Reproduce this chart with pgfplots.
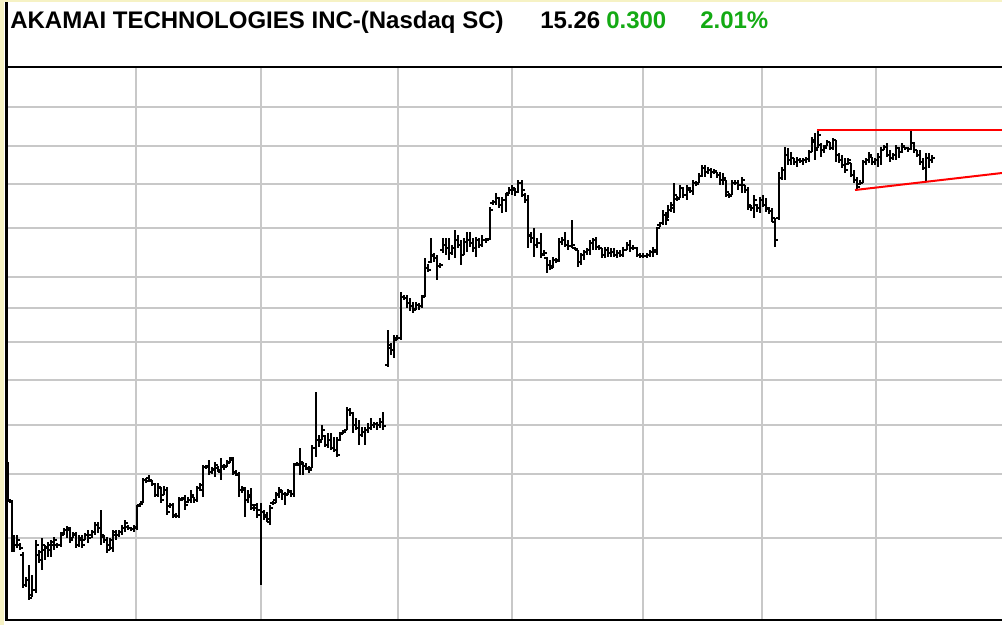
\documentclass[border=0pt]{standalone}
\usepackage{pgfplots}
\pgfplotsset{compat=1.18}
\usepackage{pgfplotstable}
\usepackage{fontspec}
\newfontfamily\tfont{Liberation Sans}
\definecolor{gridgray}{RGB}{200,200,200}
\definecolor{frameyellow}{RGB}{246,242,196}
\definecolor{chg}{RGB}{20,170,20}
% bars: x position, top (high), bottom (low), open, close  -- vertical values in screen units (down = lower price)
\pgfplotstableread{
x hi lo o c
8 462 502 465 500
12 500 552 502 540
14 535 552 540 545
17 535 548 545 540
20 543 550 545 548
23 552 588 555 585
26 577 587 585 580
29 565 600 580 598
32 575 597 595 590
36 540 593 590 545
39 550 563 555 552
42 538 570 560 545
45 545 560 550 547
48 542 557 548 545
51 540 557 550 542
54 537 550 545 540
57 543 548 545 545
61 532 547 545 535
64 528 535 533 530
67 526 538 530 528
70 527 543 530 540
73 532 538 538 534
76 532 548 535 545
79 535 547 545 538
82 535 548 540 545
85 533 540 540 535
88 530 543 535 538
92 530 538 535 532
95 522 535 532 525
98 522 533 525 528
101 510 545 528 535
104 535 543 537 540
107 537 553 540 550
110 538 550 545 540
113 530 552 548 532
116 530 540 535 535
119 530 537 535 532
122 525 535 532 528
125 520 532 528 523
128 525 530 527 528
131 527 531 528 529
134 525 532 529 527
137 505 530 528 506
140 503 507 505 504
143 478 503 502 480
146 478 483 480 481
149 475 482 478 480
152 480 486 481 484
155 483 497 484 495
158 483 497 495 487
161 487 503 488 500
164 486 495 495 490
167 487 515 490 512
170 503 508 506 505
173 503 518 505 516
176 513 518 515 516
179 497 518 516 500
182 497 501 499 499
185 495 510 498 505
188 497 503 502 500
191 490 503 500 495
194 497 503 497 500
197 486 502 500 488
200 483 491 488 485
203 465 497 490 467
206 465 469 467 467
209 460 475 466 472
212 467 474 472 469
215 462 477 470 465
218 466 472 468 470
221 458 480 472 466
224 464 470 467 467
227 460 467 466 463
230 457 463 462 460
233 457 475 458 472
236 470 476 473 474
239 472 497 475 490
242 486 493 490 490
245 487 517 488 500
248 490 503 500 497
251 488 510 495 505
254 504 511 508 508
257 503 518 505 515
261 503 585 510 512
264 510 520 512 517
267 512 522 515 519
270 505 525 522 508
273 501 505 503 503
276 492 503 500 494
279 487 498 495 490
282 490 500 492 494
285 492 505 494 495
288 489 495 494 491
291 490 497 492 494
294 463 497 494 465
297 462 466 464 464
300 448 475 465 462
303 462 475 464 466
306 463 470 466 468
309 466 473 469 470
312 445 468 468 448
316 392 457 448 440
319 435 447 440 442
322 425 440 440 430
325 435 447 436 445
328 433 448 445 440
331 433 450 440 448
334 437 452 448 450
337 437 457 450 455
340 432 441 440 434
343 430 434 433 432
347 407 430 430 410
350 408 416 410 413
353 412 433 413 425
356 418 430 425 428
359 420 445 428 435
362 427 437 435 432
365 427 445 432 430
368 423 433 430 428
371 418 430 428 425
374 422 428 425 424
377 422 430 424 425
380 418 428 425 422
383 412 430 422 426
388 330 367 365 345
391 343 355 348 350
394 335 358 350 340
397 335 340 338 338
401 292 340 338 297
404 295 300 297 298
407 295 308 298 303
410 298 311 303 306
413 302 313 306 310
416 302 310 309 305
419 303 310 305 306
422 295 308 306 297
425 258 297 296 268
428 264 272 268 270
431 238 263 262 255
434 253 262 256 258
437 255 280 258 266
440 263 268 266 265
443 238 253 250 245
446 238 255 245 248
449 238 260 248 253
452 245 255 253 248
455 230 258 248 240
458 235 248 240 245
461 240 265 245 255
464 238 255 255 242
467 232 252 242 240
470 232 247 240 243
473 238 252 243 248
476 237 257 248 240
479 238 248 240 245
482 235 247 245 240
486 238 243 240 240
490 207 240 239 210
493 200 205 203 202
496 193 205 202 198
499 197 208 198 205
502 197 213 205 200
506 193 212 200 195
509 187 194 193 190
512 185 195 190 188
515 188 196 190 192
518 180 193 192 183
522 180 197 183 190
525 193 203 195 200
528 195 248 200 235
531 232 243 236 238
534 228 257 238 245
537 238 248 245 243
541 233 258 243 255
544 250 256 254 253
547 257 273 258 265
550 260 270 265 268
553 257 268 266 260
556 258 263 260 261
559 238 262 260 242
562 237 245 242 240
565 232 247 240 245
568 240 250 245 246
572 220 248 246 245
575 247 250 248 249
578 250 267 250 262
581 253 265 262 255
584 250 260 255 252
587 248 255 252 250
590 240 255 250 243
593 238 250 243 240
596 237 250 240 247
599 245 250 247 248
602 248 258 248 255
605 247 258 255 250
608 247 257 250 253
611 248 257 253 252
614 248 257 252 255
617 250 258 255 253
620 250 257 253 255
623 247 257 255 250
627 242 250 250 245
630 240 252 245 248
633 245 250 248 248
637 247 257 248 255
640 253 258 255 256
643 253 258 256 256
647 253 258 256 255
650 250 257 255 252
653 247 257 252 250
657 227 255 252 228
660 222 227 225 223
663 210 225 223 215
666 212 225 215 220
668 205 218 218 210
671 202 212 210 205
674 183 213 208 195
677 196 201 199 199
680 185 198 198 188
683 187 198 188 195
687 185 200 195 188
690 187 193 190 191
693 180 195 191 183
696 181 186 183 184
699 173 183 183 176
702 165 177 176 168
705 165 177 168 172
708 167 174 172 170
711 168 178 170 172
714 169 174 172 171
717 172 178 172 175
720 172 185 175 180
723 173 185 180 178
726 180 197 180 192
729 193 198 195 196
732 180 195 195 183
735 180 185 183 183
738 180 190 183 185
742 177 193 185 180
745 185 193 185 190
748 187 210 190 205
751 205 211 207 208
754 195 218 208 200
757 204 212 205 208
760 197 213 208 200
763 195 207 200 205
766 198 212 205 208
769 207 214 209 211
772 208 222 211 218
775 218 247 222 240
779 172 220 218 178
782 167 180 178 170
785 147 180 170 155
788 148 165 155 160
791 152 165 160 158
794 158 165 158 162
797 157 167 162 160
800 158 163 160 161
803 158 165 161 160
806 157 163 160 159
809 150 162 159 152
812 137 152 152 140
815 133 160 142 150
818 130 148 148 135
821 143 157 145 150
824 145 153 150 148
827 140 146 146 142
830 142 150 142 148
833 138 150 148 140
836 140 162 140 155
839 153 163 155 160
842 155 168 160 165
845 158 173 165 170
848 158 165 164 160
851 163 177 163 175
854 170 183 175 180
857 177 190 180 187
860 180 185 184 183
863 160 183 183 162
866 158 165 162 160
869 152 163 160 155
872 157 165 157 162
875 158 165 162 160
878 153 167 160 157
881 147 165 157 150
884 145 150 150 147
887 143 157 147 155
890 150 162 155 158
893 153 160 158 155
896 145 160 155 148
899 147 158 148 152
902 143 153 152 146
905 147 150 147 148
908 147 152 148 149
911 130 150 149 143
914 142 153 143 150
917 150 157 150 155
920 150 165 155 162
923 158 170 162 168
926 153 182 168 158
929 153 168 158 160
932 155 163 160 158
}\data
\begin{document}
\begin{tikzpicture}[x=0.75pt,y=0.75pt]
\useasboundingbox (0,0) rectangle (1002,625);
\fill[white] (0,0) rectangle (1002,625);
\begin{axis}[
  at={(6pt,3.75pt)}, anchor=south west,
  scale only axis, width=745.5pt, height=414pt,
  xmin=8, xmax=1002, ymin=68, ymax=620, y dir=reverse,
  axis line style={draw=none},
  xtick={136,261,398,512,643,762,876},
  ytick={107,146,184,228,277,308,342,380,425,474,538},
  xticklabels={}, yticklabels={},
  major tick length=0pt,
  grid=major,
  grid style={gridgray, line width=1.5pt},
  clip=true,
]
\addplot[black, line width=1.7pt, mark=none,
  quiver={u=0, v={\thisrow{lo}-\thisrow{hi}}}] table[x=x, y=hi] {\data};
\addplot[black, line width=1.6pt, mark=none,
  quiver={u=-2.8, v=0}] table[x=x, y=o] {\data};
\addplot[black, line width=1.6pt, mark=none,
  quiver={u=2.8, v=0}] table[x=x, y=c] {\data};
\addplot[red, line width=1.5pt, mark=none] coordinates {(817,130) (1002,130)};
\addplot[red, line width=1.5pt, mark=none] coordinates {(855,190) (1002,173)};
\end{axis}
% frame
\fill[frameyellow] (0,0) rectangle (4,625);
\fill[frameyellow] (0,623) rectangle (1002,625);
\fill[black] (5,4) rectangle (7.5,623);
\fill[black] (5,4) rectangle (1002,6.5);
\fill[black] (5,557) rectangle (1002,559);
% title
\node[anchor=base west, inner sep=0pt] at (10,596)
  {\tfont\fontsize{18pt}{20pt}\selectfont\bfseries AKAMAI TECHNOLOGIES INC-(Nasdaq SC)};
\node[anchor=base west, inner sep=0pt] at (540,596)
  {\tfont\fontsize{18pt}{20pt}\selectfont\bfseries 15.26};
\node[anchor=base west, inner sep=0pt, text=chg] at (606,596)
  {\tfont\fontsize{18pt}{20pt}\selectfont\bfseries 0.300};
\node[anchor=base west, inner sep=0pt, text=chg] at (700,596)
  {\tfont\fontsize{18pt}{20pt}\selectfont\bfseries 2.01\%};
\end{tikzpicture}
\end{document}
